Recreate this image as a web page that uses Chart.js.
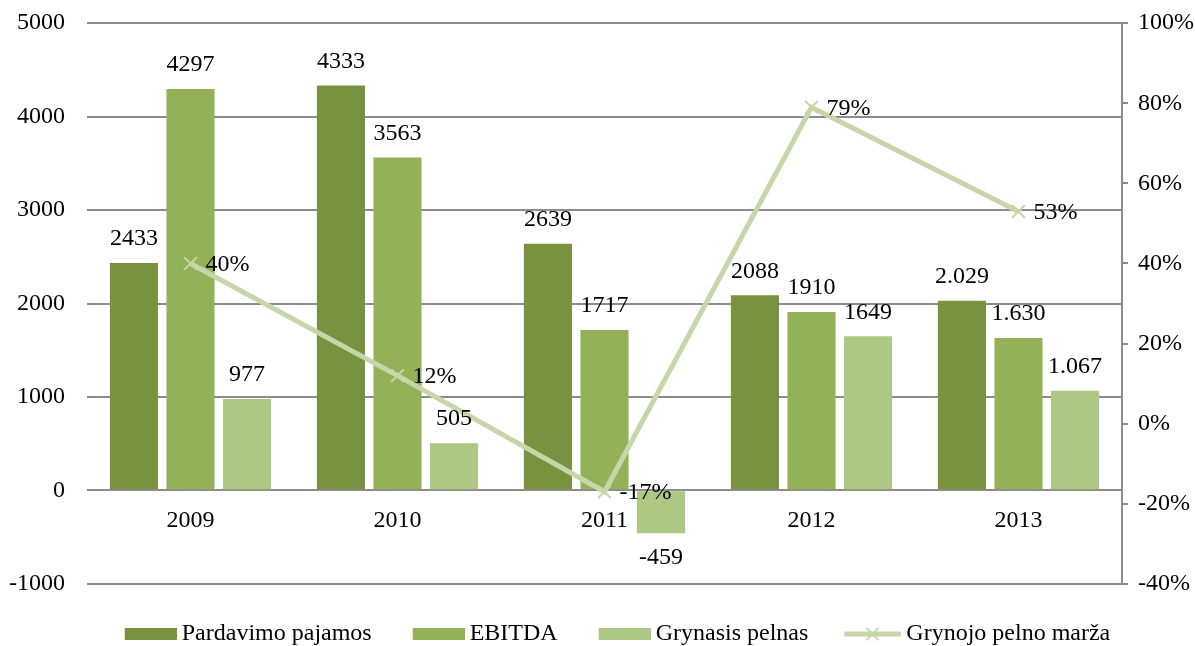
<!DOCTYPE html>
<html>
<head>
<meta charset="utf-8">
<script src="https://cdn.jsdelivr.net/npm/chart.js@4/dist/chart.umd.min.js"></script>
<style>
  html, body { margin: 0; background: #fff; }
  #wrap { width: 1195px; height: 646px; }
</style>
</head>
<body>
<div id="wrap"><canvas id="mainChart"></canvas></div>
<script>
const years = ['2009', '2010', '2011', '2012', '2013'];
const pajamos = [2433, 4333, 2639, 2088, 2029];
const ebitda = [4297, 3563, 1717, 1910, 1630];
const pelnas = [977, 505, -459, 1649, 1067];
const marza = [40, 12, -17, 79, 53];
// 2013 numbers are written with a dot as thousands separator
const dotLabels = [false, false, false, false, true];

const colDark = '#78923f';
const colMid = '#93b156';
const colLight = '#adc785';
const colLine = '#c5d7a9';
const gridCol = '#8c8c8c';
const fontFam = '"Liberation Serif", "Times New Roman", serif';

Chart.defaults.font.family = fontFam;
Chart.defaults.font.size = 24;
Chart.defaults.color = '#000';

function fmt(v, i) {
  let s = String(Math.abs(v));
  if (dotLabels[i]) s = s.replace(/\B(?=(\d{3})+(?!\d))/g, '.');
  return (v < 0 ? '-' : '') + s;
}

// legend swatches: canvas is wider than the swatch, the empty left part acts as gap between items
const legendW = 85;
function boxIcon(color) {
  const c = document.createElement('canvas');
  c.width = legendW + 14; c.height = 12;
  const g = c.getContext('2d');
  g.fillStyle = color;
  g.fillRect(c.width - 52, 0, 52, 12);
  return c;
}
function lineIcon(color) {
  const c = document.createElement('canvas');
  c.width = legendW + 14; c.height = 16;
  const g = c.getContext('2d');
  const x0 = c.width - 57;
  g.strokeStyle = color;
  g.lineWidth = 5;
  g.beginPath(); g.moveTo(x0, 8); g.lineTo(c.width, 8); g.stroke();
  g.lineWidth = 2;
  const mx = x0 + 28;
  g.beginPath();
  g.moveTo(mx - 6, 2); g.lineTo(mx + 6, 14);
  g.moveTo(mx + 6, 2); g.lineTo(mx - 6, 14);
  g.stroke();
  return c;
}

const valueLabels = {
  id: 'valueLabels',
  afterDatasetsDraw(chart) {
    const ctx = chart.ctx;
    ctx.save();
    ctx.font = '24px ' + fontFam;
    ctx.fillStyle = '#000';
    ctx.textBaseline = 'middle';
    chart.data.datasets.forEach((ds, di) => {
      const meta = chart.getDatasetMeta(di);
      meta.data.forEach((el, i) => {
        const v = ds.data[i];
        if (ds.type === 'line') {
          ctx.textAlign = 'left';
          ctx.fillText(v + '%', el.x + 15, el.y + 1);
        } else {
          ctx.textAlign = 'center';
          const y = v >= 0 ? el.y - 24 : el.y + 24;
          ctx.fillText(fmt(v, i), el.x, y);
        }
      });
    });
    ctx.restore();
  }
};

const ctx = document.getElementById('mainChart').getContext('2d');
new Chart(ctx, {
  data: {
    labels: years,
    datasets: [
      { type: 'bar', label: 'Pardavimo pajamos', data: pajamos, backgroundColor: colDark, yAxisID: 'y', order: 1 },
      { type: 'bar', label: 'EBITDA', data: ebitda, backgroundColor: colMid, yAxisID: 'y', order: 1 },
      { type: 'bar', label: 'Grynasis pelnas', data: pelnas, backgroundColor: colLight, yAxisID: 'y', order: 1 },
      {
        type: 'line', label: 'Grynojo pelno marža', data: marza, yAxisID: 'y1', order: 0,
        borderColor: colLine, borderWidth: 5, tension: 0,
        pointStyle: 'crossRot', pointRadius: 9, pointBorderWidth: 2,
        pointBorderColor: colLine, pointBackgroundColor: colLine
      }
    ]
  },
  options: {
    responsive: true,
    maintainAspectRatio: false,
    animation: false,
    layout: { padding: { top: 23, bottom: -10, left: 0, right: 0 } },
    datasets: {
      bar: { categoryPercentage: 0.82, barPercentage: 0.85 }
    },
    scales: {
      x: {
        position: { y: 0 },
        grid: { display: false, drawTicks: false },
        border: { display: false },
        ticks: { padding: 16 }
      },
      y: {
        position: 'left',
        min: -1000,
        max: 5000,
        // invisible tick marks keep the labels away from the plot without adding top padding
        ticks: { stepSize: 1000, padding: 2, font: { lineHeight: 1.1 }, callback: v => String(v) },
        grid: { color: gridCol, lineWidth: 2, drawTicks: true, tickLength: 20, tickColor: 'rgba(0,0,0,0)' },
        border: { display: false },
        afterFit(s) { s.width = 87; }
      },
      y1: {
        position: 'right',
        min: -40,
        max: 100,
        ticks: { stepSize: 20, padding: 10, font: { lineHeight: 1.1 }, callback: v => v + '%' },
        grid: { drawOnChartArea: false, color: gridCol, lineWidth: 2, tickLength: 6 },
        border: { display: true, color: gridCol, width: 2 },
        afterFit(s) { s.width = 73; }
      }
    },
    plugins: {
      tooltip: { enabled: false },
      legend: {
        position: 'bottom',
        title: { display: true, text: '', font: { size: 1 }, padding: { top: 36, bottom: 0 } },
        labels: {
          usePointStyle: true,
          pointStyleWidth: legendW,
          boxHeight: 16,
          padding: 1,
          generateLabels(chart) {
            return chart.data.datasets.map((ds, i) => ({
              text: ds.label,
              datasetIndex: i,
              pointStyle: ds.type === 'line' ? lineIcon(colLine) : boxIcon(ds.backgroundColor),
              fillStyle: 'transparent',
              strokeStyle: 'transparent',
              lineWidth: 0,
              hidden: false
            }));
          }
        }
      }
    }
  },
  plugins: [valueLabels]
});
</script>
</body>
</html>
